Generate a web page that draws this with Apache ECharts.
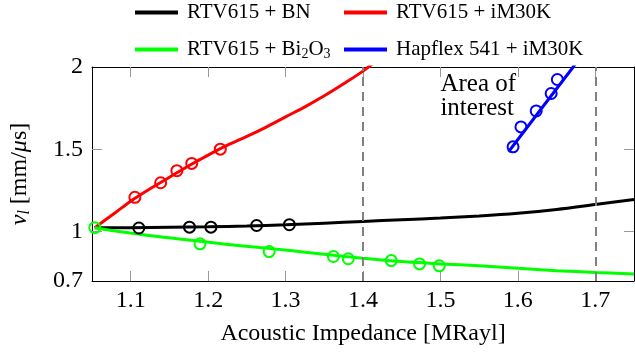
<!DOCTYPE html>
<html>
<head>
<meta charset="utf-8">
<script src="https://cdn.jsdelivr.net/npm/echarts@6/dist/echarts.min.js"></script>
<style>
html,body{margin:0;padding:0;background:#fff;}
#chart{width:635px;height:358px;}
</style>
</head>
<body>
<div id="chart"></div>
<script>
// ---- data ----
const xTicks = [1.1, 1.2, 1.3, 1.4, 1.5, 1.6, 1.7];
const yLabelTicks = [0.7, 1, 1.5, 2];
const yInnerTicks = [1, 1.5];
const dashedX = [1.4, 1.7];

const seriesNames = ['RTV615 + BN', 'RTV615 + iM30K', 'RTV615 + Bi2O3', 'Hapflex 541 + iM30K'];

const bnCurve = [[1.0536,1.024],[1.10,1.024],[1.15,1.026],[1.20,1.029],[1.25,1.034],[1.30,1.041],[1.35,1.051],[1.40,1.062],[1.45,1.072],[1.50,1.082],[1.55,1.095],[1.60,1.112],[1.65,1.135],[1.70,1.165],[1.75,1.195]];
const bnPoints = [[1.1105,1.022],[1.1759,1.027],[1.2036,1.027],[1.2626,1.037],[1.3049,1.042]];

const im30kCurve = [[1.0536,1.024],[1.08,1.115],[1.10,1.185],[1.125,1.26],[1.15,1.33],[1.175,1.40],[1.20,1.465],[1.225,1.525],[1.25,1.578],[1.275,1.635],[1.30,1.697],[1.325,1.758],[1.35,1.825],[1.375,1.898],[1.40,1.975],[1.415,2.03]];
const im30kPoints = [[1.1054,1.2085],[1.1387,1.297],[1.1596,1.37],[1.1788,1.4145],[1.2157,1.501]];

const bi2o3Curve = [[1.0536,1.024],[1.092,0.996],[1.135,0.970],[1.1776,0.948],[1.22,0.925],[1.263,0.905],[1.306,0.885],[1.35,0.862],[1.40,0.838],[1.45,0.818],[1.50,0.804],[1.55,0.792],[1.60,0.777],[1.65,0.763],[1.70,0.752],[1.75,0.742]];
const bi2o3Points = [[1.0536,1.024],[1.1895,0.926],[1.2788,0.879],[1.3618,0.849],[1.381,0.835],[1.4365,0.824],[1.473,0.804],[1.4985,0.792]];

const hapCurve = [[1.588,1.485],[1.63,1.745],[1.6715,2.0],[1.676,2.03]];
const hapPoints = [[1.5938,1.515],[1.604,1.636],[1.6237,1.733],[1.643,1.839],[1.651,1.924]];

const annotation = {x: 1.5, y: 1.965, text: 'Area of\ninterest'};

const colors = ['#000000', '#ff0000', '#00ff00', '#0000ff'];

// ---- chart ----
const FONT = 'Liberation Serif';
const chart = echarts.init(document.getElementById('chart'), null, {renderer: 'canvas'});

function curveSeries(name, data, color, extra) {
  return Object.assign({
    name: name, type: 'line', data: data, smooth: 0.35, showSymbol: false,
    lineStyle: {color: color, width: 3}, itemStyle: {color: color},
    clip: true, silent: true, z: 2
  }, extra || {});
}
function pointSeries(name, data, color) {
  return {
    name: name + ' pts', type: 'scatter', data: data, symbol: 'circle', symbolSize: 11,
    itemStyle: {color: 'rgba(0,0,0,0)', borderColor: color, borderWidth: 2, opacity: 1},
    silent: true, z: 3
  };
}

const legendCommon = {
  icon: 'rect', itemWidth: 43, itemHeight: 4, selectedMode: false, padding: 0,
  textStyle: {
    fontFamily: FONT, fontSize: 21, color: '#000', padding: [0,0,0,4],
    rich: {sub: {fontFamily: FONT, fontSize: 14, padding: [9,0,0,0]}}
  },
  formatter: function (n) { return n === 'RTV615 + Bi2O3' ? 'RTV615 + Bi{sub|2}O{sub|3}' : n; }
};

const option = {
  animation: false,
  backgroundColor: '#fff',
  legend: [
    Object.assign({data: [seriesNames[0]], left: 135, top: 2}, legendCommon),
    Object.assign({data: [seriesNames[1]], left: 344, top: 2}, legendCommon),
    Object.assign({data: [seriesNames[2]], left: 135, top: 39}, legendCommon),
    Object.assign({data: [seriesNames[3]], left: 344, top: 39}, legendCommon)
  ],
  grid: {left: 88, top: 67, width: 546, height: 214, containLabel: false},
  xAxis: [{
    type: 'value', position: 'bottom', min: 1.05, max: 1.75,
    axisLine: {lineStyle: {color: '#000', width: 1}},
    axisTick: {inside: true, length: 10, lineStyle: {color: '#999', width: 1}, customValues: xTicks},
    axisLabel: {customValues: xTicks, fontFamily: FONT, fontSize: 24, color: '#000', margin: 8,
      formatter: function (v) { return v.toFixed(1); }},
    splitLine: {show: false},
    name: 'Acoustic Impedance [MRayl]', nameLocation: 'middle', nameGap: 41,
    nameTextStyle: {fontFamily: FONT, fontSize: 24, color: '#000'}
  }, {
    type: 'value', position: 'top', min: 1.05, max: 1.75,
    axisLine: {lineStyle: {color: '#000', width: 1}},
    axisTick: {inside: true, length: 10, lineStyle: {color: '#999', width: 1}, customValues: xTicks},
    axisLabel: {show: false}, splitLine: {show: false}
  }],
  yAxis: [{
    type: 'value', position: 'left', min: 0.7, max: 2,
    axisLine: {show: true, lineStyle: {color: '#000', width: 1}},
    axisTick: {show: true, inside: true, length: 10, lineStyle: {color: '#999', width: 1}, customValues: yInnerTicks},
    axisLabel: {customValues: yLabelTicks, fontFamily: FONT, fontSize: 24, color: '#000', margin: 9,
      formatter: function (v) { return String(Math.round(v * 10) / 10); }},
    splitLine: {show: false},
    name: '{i|v}{s|l} [mm/{i|μ}s]', nameLocation: 'middle', nameGap: 59,
    nameTextStyle: {fontFamily: FONT, fontSize: 24, color: '#000',
      rich: {i: {fontFamily: FONT, fontStyle: 'italic', fontSize: 24},
             s: {fontFamily: FONT, fontStyle: 'italic', fontSize: 16, padding: [10,0,0,0]}}}
  }, {
    type: 'value', position: 'right', min: 0.7, max: 2,
    axisLine: {show: true, lineStyle: {color: '#000', width: 1}},
    axisTick: {show: true, inside: true, length: 10, lineStyle: {color: '#999', width: 1}, customValues: yInnerTicks},
    axisLabel: {show: false}, splitLine: {show: false}
  }],
  series: [
    curveSeries(seriesNames[0], bnCurve, colors[0], {
      markLine: {
        silent: true, symbol: ['none', 'none'], label: {show: false},
        lineStyle: {color: '#808080', width: 2, type: [9, 6]},
        data: dashedX.map(function (x) { return {xAxis: x}; })
      }
    }),
    curveSeries(seriesNames[1], im30kCurve, colors[1]),
    curveSeries(seriesNames[3], hapCurve, colors[3]),
    curveSeries(seriesNames[2], bi2o3Curve, colors[2]),
    pointSeries(seriesNames[0], bnPoints, colors[0]),
    pointSeries(seriesNames[1], im30kPoints, colors[1]),
    pointSeries(seriesNames[3], hapPoints, colors[3]),
    pointSeries(seriesNames[2], bi2o3Points, colors[2]),
    {
      name: 'annotation', type: 'scatter', symbolSize: 0, silent: true,
      itemStyle: {opacity: 1},
      data: [[annotation.x, annotation.y]],
      label: {show: true, position: 'inside', align: 'left', verticalAlign: 'top',
        formatter: annotation.text, fontFamily: FONT, fontSize: 25, lineHeight: 24, color: '#000', opacity: 1}
    }
  ]
};
chart.setOption(option);
</script>
</body>
</html>
